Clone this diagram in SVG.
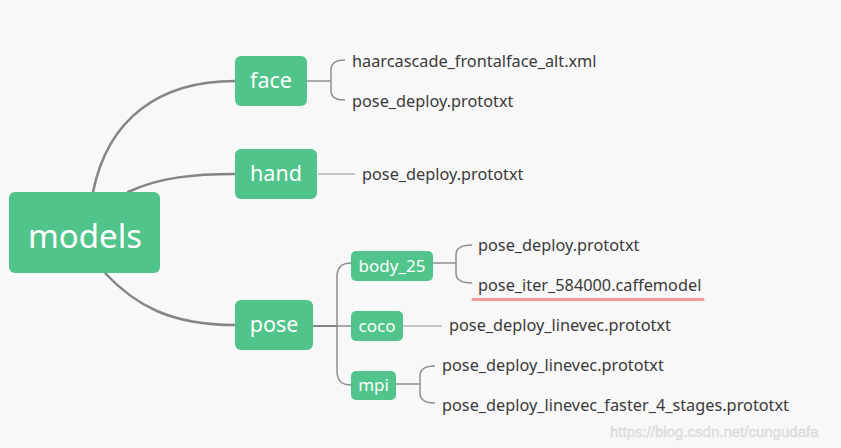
<svg xmlns="http://www.w3.org/2000/svg" width="841" height="448" viewBox="0 0 841 448">
<style>
.node{fill:#50c48b}
.nt{fill:#ffffff;font-family:"Noto Sans","Open Sans",sans-serif;text-anchor:middle}
.leaf{fill:#3a3a3a;font-family:"Noto Sans","Open Sans",sans-serif;font-size:16.3px}
.main{fill:none;stroke:#858585;stroke-width:2.5;stroke-linecap:round}
.sub{fill:none;stroke:#8f8f8f;stroke-width:1.5}
.lite{fill:none;stroke:#b5b5b5;stroke-width:1.5}
</style>
<rect width="841" height="448" fill="#f8f8f8"/>
<g id="connectors">
<path class="main" d="M93,192 C108,118 160,81 235,81"/>
<path class="main" d="M128,192 C160,177 195,174 235,174"/>
<path class="main" d="M105,273 C135,305 170,325 235,325"/>
<path class="sub" d="M307,81 H331 M345,60 Q331,60 331,70 V91 Q331,100 345,100"/>
<path class="lite" d="M318,174 H355"/>
<path class="main" style="stroke-width:2" d="M313,326 H337"/>
<path class="sub" d="M351,263 Q337,263 337,277 V371 Q337,385 351,385 M337,326 H351"/>
<path class="sub" d="M433,263 H456 M472,245 Q456,245 456,255 V273 Q456,283 472,283"/>
<path class="lite" d="M403,326 H442"/>
<path class="sub" d="M396,384 H420 M435,366 Q420,366 420,376 V393 Q420,403 435,403"/>
</g>
<g id="models"><rect class="node" x="9" y="192" width="151" height="81" rx="6"/><text class="nt" x="85" y="248" font-size="33">models</text></g>
<g id="face"><rect class="node" x="235" y="56" width="72" height="50" rx="6"/><text class="nt" x="271" y="88" font-size="21.5">face</text></g>
<g id="hand"><rect class="node" x="235" y="149" width="82" height="50" rx="6"/><text class="nt" x="276" y="181" font-size="21.5">hand</text></g>
<g id="pose"><rect class="node" x="235" y="300" width="78" height="50" rx="6"/><text class="nt" x="274" y="332" font-size="21.5">pose</text></g>
<g id="body_25"><rect class="node" x="351" y="251" width="82" height="30" rx="5"/><text class="nt" x="392" y="272" font-size="17">body_25</text></g>
<g id="coco"><rect class="node" x="351" y="311" width="52" height="30" rx="5"/><text class="nt" x="377" y="332" font-size="17">coco</text></g>
<g id="mpi"><rect class="node" x="351" y="371" width="45" height="29" rx="5"/><text class="nt" x="373.5" y="391" font-size="17">mpi</text></g>
<g id="leaf-face-1"><text class="leaf" x="352" y="67">haarcascade_frontalface_alt.xml</text></g>
<g id="leaf-face-2"><text class="leaf" x="352" y="107">pose_deploy.prototxt</text></g>
<g id="leaf-hand-1"><text class="leaf" x="362" y="180">pose_deploy.prototxt</text></g>
<g id="leaf-body-1"><text class="leaf" x="478" y="251">pose_deploy.prototxt</text></g>
<g id="leaf-body-2"><text class="leaf" x="478" y="291">pose_iter_584000.caffemodel</text><path d="M473,299.5 H703" stroke="#f39898" stroke-width="3" stroke-linecap="round"/></g>
<g id="leaf-coco-1"><text class="leaf" x="449" y="331">pose_deploy_linevec.prototxt</text></g>
<g id="leaf-mpi-1"><text class="leaf" x="442" y="371">pose_deploy_linevec.prototxt</text></g>
<g id="leaf-mpi-2"><text class="leaf" x="442" y="411">pose_deploy_linevec_faster_4_stages.prototxt</text></g>
<text x="610" y="437" font-family="Liberation Sans, Arial, sans-serif" font-size="15" fill="#e4e4e4" stroke="#d0d0d0" stroke-width="0.3">https://blog.csdn.net/cungudafa</text>
</svg>
